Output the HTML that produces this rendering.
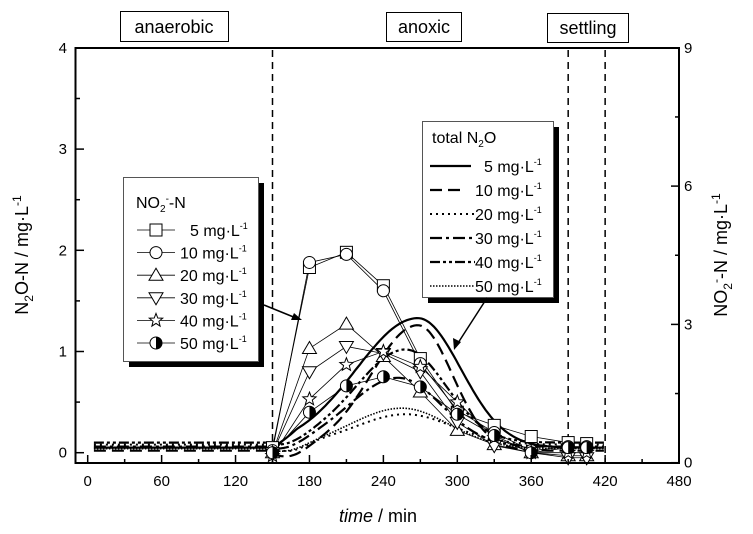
<!DOCTYPE html>
<html><head><meta charset="utf-8"><style>
html,body{margin:0;padding:0;background:#fff;}
svg{display:block;font-family:"Liberation Sans",Arial,sans-serif;}
</style></head><body>
<svg id="s" width="753" height="534" viewBox="0 0 753 534" xmlns="http://www.w3.org/2000/svg">
<rect width="753" height="534" fill="#fff"/>
<rect x="120.5" y="11.5" width="108" height="30" fill="#fff" stroke="#000"/>
<text x="174" y="33" font-size="18" text-anchor="middle">anaerobic</text>
<rect x="386.5" y="12.5" width="75" height="29" fill="#fff" stroke="#000"/>
<text x="424" y="33" font-size="18" text-anchor="middle">anoxic</text>
<rect x="547.5" y="13.5" width="81" height="29" fill="#fff" stroke="#000"/>
<text x="588" y="34" font-size="18" text-anchor="middle">settling</text>
<g id="plot"></g>
<rect x="75.5" y="48" width="603.5" height="415" fill="none" stroke="#000" stroke-width="2"/>
<g id="ticks"></g>
<text transform="translate(28,255) rotate(-90)" font-size="18" text-anchor="middle">N<tspan font-size="12" dy="5">2</tspan><tspan dy="-5">O-N / mg·L</tspan><tspan font-size="12" dy="-7">-1</tspan></text>
<text transform="translate(727,255) rotate(-90)" font-size="18" text-anchor="middle">NO<tspan font-size="12" dy="5">2</tspan><tspan font-size="12" dy="-12">-</tspan><tspan dy="7">-N / mg·L</tspan><tspan font-size="12" dy="-7">-1</tspan></text>
<text x="378" y="522" font-size="18" text-anchor="middle"><tspan font-style="italic">time</tspan> / min</text>
<rect x="129" y="183" width="135" height="184" fill="#000"/>
<rect x="123.5" y="177.5" width="135" height="184" fill="#fff" stroke="#555"/>
<text x="136" y="208" font-size="16">NO<tspan font-size="10" dy="4">2</tspan><tspan font-size="10" dy="-10">-</tspan><tspan dy="6">-N</tspan></text>
<g id="legL"></g>
<rect x="428" y="127" width="131" height="176" fill="#000"/>
<rect x="422.5" y="121.5" width="131" height="176" fill="#fff" stroke="#555"/>
<text x="432" y="143" font-size="16">total N<tspan font-size="10" dy="4">2</tspan><tspan dy="-4">O</tspan></text>
<g id="legR"></g>
<line x1="264" y1="305" x2="296" y2="318" stroke="#000" stroke-width="1.5"/>
<polygon points="302,320 291,320 294,313" fill="#000"/>
<line x1="487" y1="298" x2="458" y2="343" stroke="#000" stroke-width="1.5"/>
<polygon points="454,350 453,338 461,342" fill="#000"/>
</svg>
<script>
var NS="http://www.w3.org/2000/svg";
function X(t){return 87.7+t*1.232;}
function Y(v){return 452.7-v*101.2;}
function el(p,tag,a,txt){var e=document.createElementNS(NS,tag);for(var k in a)e.setAttribute(k,a[k]);if(txt!=null)e.textContent=txt;p.appendChild(e);return e;}
var plot=document.getElementById('plot'),tk=document.getElementById('ticks');
[150,390,420].forEach(function(t){el(plot,'line',{x1:X(t),x2:X(t),y1:50,y2:462,stroke:'#000','stroke-width':1.5,'stroke-dasharray':'7,5'});});
for(var t=0;t<=480;t+=30){var big=t%60==0;el(tk,'line',{x1:X(t),x2:X(t),y1:463,y2:big?455:459,stroke:'#000','stroke-width':1.5});
 if(big)el(tk,'text',{x:X(t),y:486,'font-size':15,'text-anchor':'middle'},String(t));}
for(var v=0;v<=4;v+=0.5){var b=v%1==0;el(tk,'line',{x1:76,x2:b?84:80,y1:Y(v),y2:Y(v),stroke:'#000','stroke-width':1.5});
 if(b)el(tk,'text',{x:67,y:Y(v)+5,'font-size':15,'text-anchor':'end'},String(v));}
for(var w=0;w<=9;w+=1.5){var yy=462.7-w*46.1,b2=w%3==0;el(tk,'line',{x1:679,x2:b2?671:675,y1:yy,y2:yy,stroke:'#000','stroke-width':1.5});
 if(b2)el(tk,'text',{x:684,y:yy+5,'font-size':15},String(w));}
function curve(base,A,mu,sl,sr,dip){var pts=[];for(var t=5;t<=420;t+=2){var v=base;if(t>150){var s=t<mu?sl:sr;var g=A*Math.exp(-Math.pow((t-mu)/s,2)/2);var start=A*Math.exp(-Math.pow((150-mu)/sl,2)/2);var f=Math.min(1,(t-150)/20);v=base+g-start*(1-f)-dip*Math.exp(-Math.pow((t-165)/12,2)/2);}pts.push(X(t).toFixed(1)+','+Y(v).toFixed(1));}return pts.join(' ');}
var C=[
 {b:0.05,A:1.28,mu:268,sl:50,sr:35,d:0,da:'',w:2.2},
 {b:0.02,A:1.24,mu:268,sl:38,sr:28,d:0.08,da:'12,6',w:2.2},
 {b:0.08,A:0.3,mu:258,sl:40,sr:38,d:0.08,da:'2,4',w:2},
 {b:0.06,A:0.68,mu:252,sl:40,sr:35,d:0.05,da:'12,4,3,4',w:2.2},
 {b:0.1,A:0.92,mu:258,sl:40,sr:33,d:0.05,da:'10,3,3,3,3,3',w:2.2},
 {b:0.04,A:0.4,mu:255,sl:42,sr:38,d:0.05,da:'1.5,1.5',w:1.6}];
C.forEach(function(c){el(plot,'polyline',{points:curve(c.b,c.A,c.mu,c.sl,c.sr,c.d),fill:'none',stroke:'#000','stroke-width':c.w,'stroke-dasharray':c.da});});
var T=[150,180,210,240,270,300,330,360,390,405];
var S=[
 ['sq',[0.05,1.83,1.98,1.65,0.93,0.4,0.27,0.16,0.1,0.09]],
 ['ci',[0.02,1.88,1.96,1.6,0.88,0.42,0.2,0.02,0.06,0.06]],
 ['tu',[0.0,1.03,1.27,0.95,0.6,0.22,0.08,0.0,-0.03,-0.03]],
 ['td',[0.0,0.8,1.05,0.98,0.8,0.3,0.07,0.0,-0.05,-0.05]],
 ['st',[-0.03,0.53,0.87,1.0,0.85,0.5,0.15,0.0,0.0,0.0]],
 ['hc',[0.0,0.4,0.66,0.75,0.65,0.38,0.17,0.0,0.05,0.05]]];
function mk(p,type,x,y){var r=6;
 if(type=='sq')el(p,'rect',{x:x-r,y:y-r,width:2*r,height:2*r,fill:'#fff',stroke:'#000'});
 else if(type=='ci')el(p,'circle',{cx:x,cy:y,r:r,fill:'#fff',stroke:'#000'});
 else if(type=='tu')el(p,'polygon',{points:(x-7)+','+(y+5)+' '+(x+7)+','+(y+5)+' '+x+','+(y-7),fill:'#fff',stroke:'#000'});
 else if(type=='td')el(p,'polygon',{points:(x-7)+','+(y-5)+' '+(x+7)+','+(y-5)+' '+x+','+(y+7),fill:'#fff',stroke:'#000'});
 else if(type=='st'){var q=[];for(var i=0;i<10;i++){var rr=i%2?3:7,a=-Math.PI/2+i*Math.PI/5;q.push((x+rr*Math.cos(a)).toFixed(1)+','+(y+rr*Math.sin(a)).toFixed(1));}el(p,'polygon',{points:q.join(' '),fill:'#fff',stroke:'#000'});}
 else{el(p,'circle',{cx:x,cy:y,r:r,fill:'#fff',stroke:'#000'});el(p,'path',{d:'M'+x+','+(y-r)+' A'+r+','+r+' 0 0 1 '+x+','+(y+r)+' Z',fill:'#000'});}}
S.forEach(function(s){el(plot,'polyline',{points:T.map(function(t,i){return X(t)+','+Y(s[1][i]);}).join(' '),fill:'none',stroke:'#000','stroke-width':0.8});});
S.forEach(function(s){T.forEach(function(t,i){mk(plot,s[0],X(t),Y(s[1][i]));});});
var lg=document.getElementById('legL'),labs=['5','10','20','30','40','50'];
for(var i=0;i<6;i++){var yy=230+i*22.6;el(lg,'line',{x1:137,x2:175,y1:yy,y2:yy,stroke:'#000','stroke-width':0.8});mk(lg,S[i][0],156,yy);
 var tx=el(lg,'text',{x:(i==0?190:180),y:yy+6,'font-size':16});tx.innerHTML=labs[i]+' mg·L<tspan font-size="9" dy="-7">-1</tspan>';}
var lr=document.getElementById('legR');
for(var i=0;i<6;i++){var yy=166+i*24;el(lr,'line',{x1:430,x2:(i==0?471:i==1?462:475),y1:yy,y2:yy,stroke:'#000','stroke-width':C[i].w,'stroke-dasharray':C[i].da});
 var tx=el(lr,'text',{x:(i==0?484:475),y:yy+6,'font-size':16});tx.innerHTML=labs[i]+' mg·L<tspan font-size="9" dy="-7">-1</tspan>';}
</script>
</body></html>
